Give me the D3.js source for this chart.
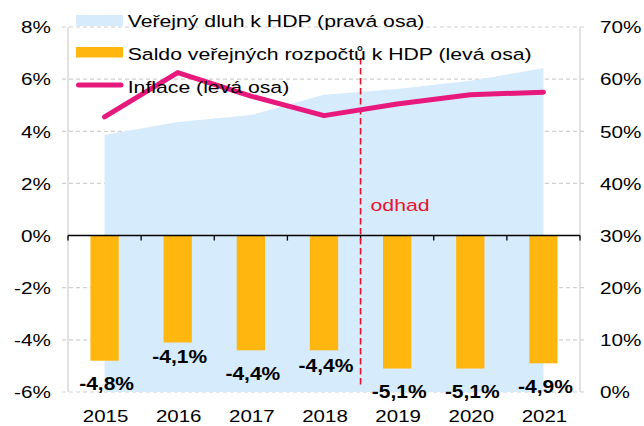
<!DOCTYPE html>
<html>
<head>
<meta charset="utf-8">
<script src="https://cdn.jsdelivr.net/npm/d3@7"></script>
<style>
  html, body { margin: 0; padding: 0; background: #fff; }
  svg { display: block; }
  text { font-family: "Liberation Sans", Arial, sans-serif; fill: #000; }
</style>
</head>
<body>
<svg id="chart" width="644" height="426"></svg>
<script>
// ---- data ----
const years = ["2015", "2016", "2017", "2018", "2019", "2020", "2021"];
const saldo = [-4.8, -4.1, -4.4, -4.4, -5.1, -5.1, -4.9];          // left axis, %
const inflation = [4.55, 6.25, 5.35, 4.6, 5.05, 5.4, 5.5];          // left axis, %
const debt = [49.3, 51.8, 53.1, 57.0, 58.1, 59.7, 62.1];            // right axis, %
const leftTicks = [8, 6, 4, 2, 0, -2, -4, -6];
const rightTicks = [70, 60, 50, 40, 30, 20, 10, 0];
const legendLabels = ["Veřejný dluh k HDP (pravá osa)", "Saldo veřejných rozpočtů k HDP (levá osa)", "Inflace (levá osa)"];
const estimateLabel = "odhad";
const estimateFrom = "2019";

// ---- style / layout ----
const colDebt = "#D6EBFC", colSaldo = "#FFB70F", colInfl = "#E8197D", colRed = "#E8142D";
const SX = 1.22; // horizontal text stretch of the original
const labelDy = [29, 21, 30, 22, 29, 29, 30]; // label placement below bar ends

const svg = d3.select("#chart");
const L = 68, R = 580, T = 27, B = 392;

const x = d3.scaleBand().domain(years).range([L, R]).paddingInner(0.613).paddingOuter(0.3065);
const xc = d => x(d) + x.bandwidth() / 2;
const yL = d3.scaleLinear().domain([-6, 8]).range([B, T]);
const yR = d3.scaleLinear().domain([0, 70]).range([B, T]);

function txt(g, s, px, py, opts) {
  const o = Object.assign({size: 17.4, anchor: "start", weight: "normal", fill: "#000", sx: SX}, opts || {});
  return g.append("text")
    .attr("transform", `translate(${px},${py}) scale(${o.sx},1)`)
    .attr("text-anchor", o.anchor)
    .style("font-size", o.size + "px")
    .style("font-weight", o.weight)
    .style("fill", o.fill)
    .text(s);
}

// gridlines
svg.append("g").selectAll("line").data(leftTicks.filter(t => t !== 0)).join("line")
  .attr("x1", L - 6).attr("x2", R + 7)
  .attr("y1", d => yL(d)).attr("y2", d => yL(d))
  .attr("stroke", "#CFCFCF").attr("stroke-width", 1.2).attr("stroke-dasharray", "4,3");

// side frame lines
svg.append("g").selectAll("line").data([L, R]).join("line")
  .attr("x1", d => d).attr("x2", d => d).attr("y1", T).attr("y2", B)
  .attr("stroke", "#D9D9D9").attr("stroke-width", 1.5);

// debt area (right axis)
const area = d3.area().x((d, i) => xc(years[i])).y0(yR(0)).y1(d => yR(d));
svg.append("path").datum(debt).attr("d", area).attr("fill", colDebt);

// saldo bars (left axis)
svg.append("g").selectAll("rect").data(saldo).join("rect")
  .attr("x", (d, i) => x(years[i]))
  .attr("width", x.bandwidth())
  .attr("y", d => Math.min(yL(0), yL(d)))
  .attr("height", d => Math.abs(yL(d) - yL(0)))
  .attr("fill", colSaldo);

// zero axis with ticks at category boundaries
const y0 = yL(0);
svg.append("line").attr("x1", L).attr("x2", R).attr("y1", y0).attr("y2", y0)
  .attr("stroke", "#000").attr("stroke-width", 1.5);
const bounds = d3.range(years.length + 1).map(i => L + i * x.step());
svg.append("g").selectAll("line").data(bounds).join("line")
  .attr("x1", d => d).attr("x2", d => d).attr("y1", y0).attr("y2", y0 + 5)
  .attr("stroke", "#000").attr("stroke-width", 1.3);

// estimate divider
const iEst = years.indexOf(estimateFrom);
const xEst = L + iEst * x.step();
svg.append("line").attr("x1", xEst).attr("x2", xEst).attr("y1", 58).attr("y2", 386)
  .attr("stroke", colRed).attr("stroke-width", 1.6).attr("stroke-dasharray", "6.5,3.5");
txt(svg, estimateLabel, xEst + 10, 211, {fill: colRed});

// inflation line
const line = d3.line().x((d, i) => xc(years[i])).y(d => yL(d));
svg.append("path").datum(inflation).attr("d", line)
  .attr("fill", "none").attr("stroke", colInfl).attr("stroke-width", 5)
  .attr("stroke-linejoin", "round").attr("stroke-linecap", "round");

// bar value labels
const fmt = v => d3.format(".1f")(v).replace(".", ",").replace("−", "-") + "%";
saldo.forEach((v, i) => {
  txt(svg, fmt(v), xc(years[i]) + 2, yL(v) + labelDy[i], {weight: "bold", anchor: "middle", size: 17.5, sx: 1.2});
});

// left axis labels
leftTicks.forEach(t => txt(svg, t + "%", 51, yL(t) + 6.3, {anchor: "end", size: 17}));
// right axis labels
rightTicks.forEach(t => txt(svg, t + "%", 600, yR(t) + 6.3, {anchor: "start", size: 17}));
// x labels
years.forEach(yv => txt(svg, yv, xc(yv) + 1, 421.5, {anchor: "middle", size: 16.8}));

// legend
const lg = svg.append("g");
lg.append("rect").attr("x", 76).attr("y", 15).attr("width", 47).attr("height", 11).attr("fill", colDebt);
lg.append("rect").attr("x", 76).attr("y", 47).attr("width", 47).attr("height", 10.5).attr("fill", colSaldo);
lg.append("line").attr("x1", 78.5).attr("x2", 121).attr("y1", 85).attr("y2", 85)
  .attr("stroke", colInfl).attr("stroke-width", 5).attr("stroke-linecap", "round");
txt(lg, legendLabels[0], 127.7, 27.3);
txt(lg, legendLabels[1], 127.7, 60);
txt(lg, legendLabels[2], 127.7, 92.5);
</script>
</body>
</html>
